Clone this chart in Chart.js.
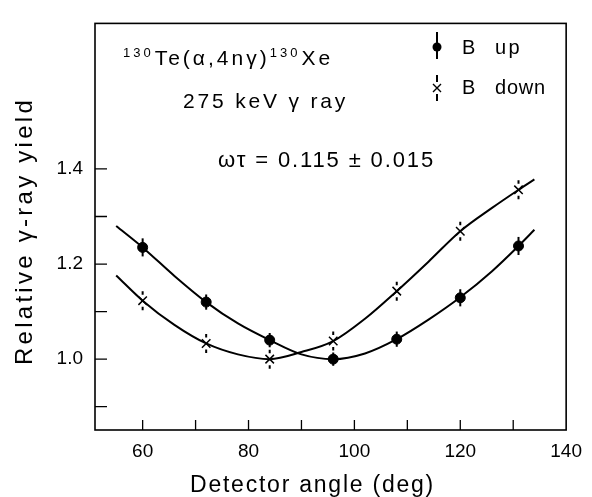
<!DOCTYPE html>
<html lang="en">
<head>
  <meta charset="utf-8">
  <title>Relative gamma-ray yield vs detector angle</title>
  <script src="https://cdn.jsdelivr.net/npm/chart.js"></script>
  <style>
    html, body { margin: 0; padding: 0; background: #fff; }
    #wrap { width: 592px; height: 497px; }
  </style>
</head>
<body>
<div id="wrap"><canvas id="yieldChart" width="592" height="497"></canvas></div>

<script>
  // measured points (deg, relative yield, error)
  const angles = [60, 72, 84, 96, 108, 120, 131];
  const yieldUp = [1.235, 1.12, 1.04, 1.0, 1.042, 1.129, 1.238];
  const errUp = [0.019, 0.016, 0.015, 0.014, 0.016, 0.018, 0.019];
  const yieldDown = [1.123, 1.033, 1.0, 1.038, 1.143, 1.269, 1.356];
  const errDown = [0.02, 0.02, 0.02, 0.02, 0.02, 0.02, 0.02];

  // fitted curves
  const fitAngles = [55, 60, 66, 72, 78, 84, 90, 96, 102, 108, 114, 120, 126, 131, 134];
  const fitUp = [1.28, 1.235, 1.175, 1.12, 1.075, 1.04, 1.01, 1.0, 1.012, 1.042, 1.083, 1.13, 1.185, 1.238, 1.272];
  const fitDown = [1.176, 1.123, 1.072, 1.033, 1.01, 1.0, 1.015, 1.038, 1.085, 1.143, 1.205, 1.269, 1.318, 1.356, 1.378];

  const xTicks = [60, 80, 100, 120, 140];
  const xMinor = [70, 90, 110, 130];
  const yTicks = [1.0, 1.2, 1.4];
  const yMinor = [0.9, 1.1, 1.3];

  const FONT = '"Liberation Sans", Arial, sans-serif';

  // draw a string stretched (by letter spacing) to a given width
  function fitText(ctx, str, x, y, width) {
    ctx.letterSpacing = '0px';
    const w = ctx.measureText(str).width;
    ctx.letterSpacing = ((width - w) / str.length) + 'px';
    ctx.fillText(str, x, y);
    ctx.letterSpacing = '0px';
  }

  const errorBars = {
    id: 'errorBars',
    afterDatasetsDraw(chart) {
      const ctx = chart.ctx;
      const y = chart.scales.y;
      ctx.save();
      ctx.strokeStyle = '#000';
      ctx.lineWidth = 2;
      [[2, yieldUp, errUp, 0], [3, yieldDown, errDown, 6]].forEach(([idx, vals, errs, gap]) => {
        chart.getDatasetMeta(idx).data.forEach((pt, i) => {
          const top = y.getPixelForValue(vals[i] + errs[i]);
          const bot = y.getPixelForValue(vals[i] - errs[i]);
          ctx.beginPath();
          if (gap) {
            ctx.moveTo(pt.x, top); ctx.lineTo(pt.x, pt.y - gap);
            ctx.moveTo(pt.x, pt.y + gap); ctx.lineTo(pt.x, bot);
          } else {
            ctx.moveTo(pt.x, top); ctx.lineTo(pt.x, bot);
          }
          ctx.stroke();
        });
      });
      ctx.restore();
    }
  };

  const frame = {
    id: 'frame',
    afterDraw(chart) {
      const ctx = chart.ctx;
      const a = chart.chartArea;
      const xs = chart.scales.x, ys = chart.scales.y;
      ctx.save();
      ctx.strokeStyle = '#000';
      ctx.lineWidth = 1.6;
      ctx.strokeRect(a.left, a.top, a.right - a.left, a.bottom - a.top);
      ctx.lineWidth = 1.3;
      ctx.beginPath();
      xTicks.concat(xMinor).forEach(v => {
        const px = xs.getPixelForValue(v);
        if (px >= a.right - 1) return;
        ctx.moveTo(px, a.bottom); ctx.lineTo(px, a.bottom - 10);
      });
      yTicks.concat(yMinor).forEach(v => {
        const py = ys.getPixelForValue(v);
        ctx.moveTo(a.left, py); ctx.lineTo(a.left + 12, py);
      });
      ctx.stroke();

      ctx.fillStyle = '#000';
      ctx.textBaseline = 'alphabetic';
      ctx.textAlign = 'left';

      // axis titles
      ctx.font = '23px ' + FONT;
      fitText(ctx, 'Detector angle (deg)', 190, 492, 245);
      ctx.save();
      ctx.translate(32, 365);
      ctx.rotate(-Math.PI / 2);
      ctx.font = '24px ' + FONT;
      fitText(ctx, 'Relative γ-ray yield', 0, 0, 268);
      ctx.restore();

      // reaction label with superscripts
      let x = 123;
      const base = 65;
      ctx.letterSpacing = '3px';
      const sup = (t) => { ctx.font = '13px ' + FONT; ctx.fillText(t, x, base - 8); x += ctx.measureText(t).width + 1; };
      const txt = (t) => { ctx.font = '21px ' + FONT; ctx.fillText(t, x, base); x += ctx.measureText(t).width; };
      sup('130'); txt('Te(α,4nγ)'); sup('130'); txt('Xe');
      ctx.letterSpacing = '0px';

      ctx.font = '21px ' + FONT;
      fitText(ctx, '275 keV γ ray', 183, 108, 165);
      ctx.font = '22px ' + FONT;
      fitText(ctx, 'ωτ = 0.115 ± 0.015', 218, 167, 217);

      // legend
      ctx.font = '20px ' + FONT;
      ctx.fillText('B', 462, 54);
      fitText(ctx, 'up', 495, 54, 27);
      ctx.fillText('B', 462, 94);
      fitText(ctx, 'down', 495, 94, 51);

      ctx.lineWidth = 2;
      ctx.beginPath();
      ctx.moveTo(437, 32); ctx.lineTo(437, 59);
      ctx.moveTo(437, 75); ctx.lineTo(437, 82);
      ctx.moveTo(437, 94); ctx.lineTo(437, 101);
      ctx.stroke();
      ctx.beginPath();
      ctx.arc(437, 47, 4.5, 0, Math.PI * 2);
      ctx.fill();
      ctx.lineWidth = 1.4;
      ctx.beginPath();
      ctx.moveTo(433, 84); ctx.lineTo(441, 92);
      ctx.moveTo(441, 84); ctx.lineTo(433, 92);
      ctx.stroke();
      ctx.restore();
    }
  };

  new Chart(document.getElementById('yieldChart'), {
    type: 'scatter',
    data: {
      datasets: [
        {
          type: 'line',
          label: 'B up fit',
          data: fitAngles.map((a, i) => ({ x: a, y: fitUp[i] })),
          borderColor: '#000',
          borderWidth: 2,
          pointRadius: 0,
          cubicInterpolationMode: 'monotone',
          fill: false
        },
        {
          type: 'line',
          label: 'B down fit',
          data: fitAngles.map((a, i) => ({ x: a, y: fitDown[i] })),
          borderColor: '#000',
          borderWidth: 2,
          pointRadius: 0,
          cubicInterpolationMode: 'monotone',
          fill: false
        },
        {
          label: 'B up',
          data: angles.map((a, i) => ({ x: a, y: yieldUp[i] })),
          pointStyle: 'circle',
          pointRadius: 5,
          backgroundColor: '#000',
          borderColor: '#000'
        },
        {
          label: 'B down',
          data: angles.map((a, i) => ({ x: a, y: yieldDown[i] })),
          pointStyle: 'crossRot',
          pointRadius: 6,
          borderWidth: 1.5,
          backgroundColor: '#fff',
          borderColor: '#000'
        }
      ]
    },
    options: {
      responsive: false,
      animation: false,
      layout: { padding: { top: 11, right: 20, left: 0, bottom: 0 } },
      plugins: {
        legend: { display: false },
        tooltip: { enabled: false }
      },
      scales: {
        x: {
          type: 'linear',
          min: 51,
          max: 140,
          afterFit: s => { s.height = 67; },
          afterBuildTicks: s => { s.ticks = xTicks.map(v => ({ value: v })); },
          grid: { display: false, drawTicks: false },
          border: { display: false },
          ticks: { color: '#000', padding: 10, font: { family: FONT, size: 19 } }
        },
        y: {
          type: 'linear',
          min: 0.851,
          max: 1.706,
          afterFit: s => { s.width = 95; },
          afterBuildTicks: s => { s.ticks = yTicks.map(v => ({ value: v })); },
          grid: { display: false, drawTicks: false },
          border: { display: false },
          ticks: { color: '#000', padding: 12, font: { family: FONT, size: 19 }, callback: v => v.toFixed(1) }
        }
      }
    },
    plugins: [errorBars, frame]
  });
</script>
</body>
</html>
